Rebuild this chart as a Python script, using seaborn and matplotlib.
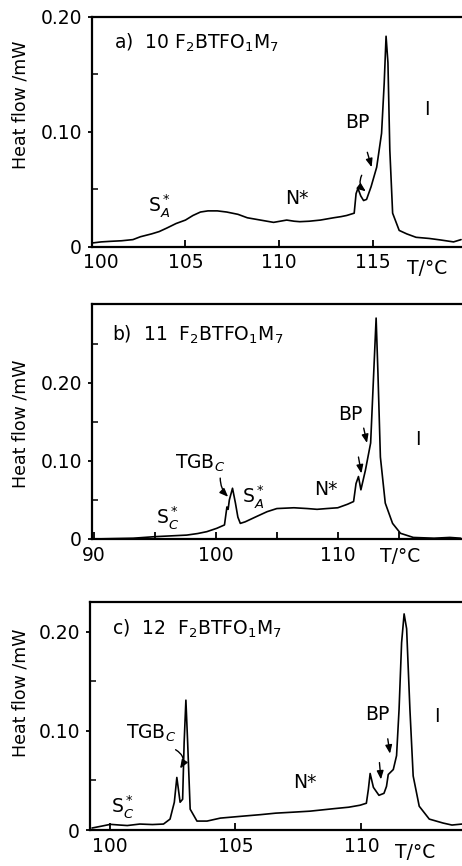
import numpy as np
import pandas as pd
import matplotlib
matplotlib.use("Agg")
import matplotlib.pyplot as plt
import matplotlib.transforms as mtransforms
import seaborn as sns

# ---------------- data ----------------
# panel a) 10 F2BTFO1M7
Ta = [100.0, 100.5, 101.0, 101.6, 102.2, 102.6, 103.2, 103.6, 104.0, 104.5, 105.0, 105.4,
      105.8, 106.2, 106.7, 107.2, 107.8, 108.3, 109.0, 109.7, 110.4, 110.8, 111.1, 111.6,
      112.2, 112.9, 113.3, 113.6, 114.0, 114.1, 114.2, 114.35, 114.5, 114.66, 114.9, 115.2,
      115.46, 115.6, 115.7, 115.8, 115.9, 116.05, 116.4, 116.8, 117.3, 118.0, 118.6, 119.3, 119.7]
Ha = [0.003, 0.004, 0.0045, 0.005, 0.006, 0.0085, 0.011, 0.013, 0.016, 0.020, 0.023, 0.027,
      0.030, 0.031, 0.031, 0.030, 0.028, 0.025, 0.023, 0.021, 0.023, 0.022, 0.0216, 0.022,
      0.023, 0.025, 0.026, 0.027, 0.029, 0.046, 0.0506, 0.044, 0.040, 0.041, 0.052, 0.069,
      0.0985, 0.142, 0.183, 0.16, 0.084, 0.029, 0.014, 0.011, 0.008, 0.007, 0.0057, 0.004, 0.006]

# panel b) 11 F2BTFO1M7
Tb = [89.9, 91.5, 93.2, 95.0, 96.3, 97.6, 98.5, 99.25, 100.07, 100.7, 100.9, 101.0, 101.1,
      101.36, 101.6, 101.8, 102.0, 102.4, 103.36, 104.2, 105.0, 106.4, 107.5, 108.3, 109.1,
      110.0, 110.8, 111.3, 111.5, 111.7, 111.9, 112.27, 112.54, 112.7, 112.95, 113.15, 113.3,
      113.5, 113.9, 114.5, 115.15, 116.2, 117.9, 119.2, 120.1]
Hb = [0.0, 0.0005, 0.001, 0.003, 0.004, 0.005, 0.007, 0.0094, 0.0137, 0.018, 0.041, 0.038, 0.050,
      0.065, 0.046, 0.028, 0.020, 0.022, 0.029, 0.035, 0.039, 0.040, 0.039, 0.038, 0.039,
      0.040, 0.0445, 0.048, 0.071, 0.080, 0.063, 0.088, 0.11, 0.123, 0.212, 0.283, 0.212,
      0.105, 0.046, 0.020, 0.0073, 0.002, 0.001, 0.002, 0.001]

# panel c) 12 F2BTFO1M7
Tc = [99.3, 99.7, 100.03, 100.4, 100.7, 101.2, 101.7, 102.14, 102.4, 102.57, 102.67, 102.8,
      102.9, 102.96, 103.03, 103.1, 103.2, 103.47, 103.87, 104.4, 105.3, 106.0, 106.6, 107.3,
      107.96, 108.9, 109.5, 109.95, 110.2, 110.28, 110.35, 110.48, 110.7, 110.9, 111.0, 111.07,
      111.27, 111.4, 111.5, 111.6, 111.7, 111.8, 111.93, 112.06, 112.3, 112.7, 113.25, 113.6, 114.0]
Hc = [0.002, 0.004, 0.0057, 0.005, 0.0045, 0.006, 0.0055, 0.006, 0.011, 0.028, 0.053, 0.028,
      0.031, 0.088, 0.131, 0.088, 0.021, 0.009, 0.009, 0.012, 0.014, 0.0155, 0.017, 0.018,
      0.019, 0.0215, 0.023, 0.025, 0.027, 0.041, 0.057, 0.043, 0.035, 0.037, 0.044, 0.056,
      0.061, 0.075, 0.122, 0.189, 0.218, 0.203, 0.122, 0.0545, 0.024, 0.011, 0.007, 0.005, 0.006]

titles = [r"a)  10 F$_2$BTFO$_1$M$_7$",
          r"b)  11  F$_2$BTFO$_1$M$_7$",
          r"c)  12  F$_2$BTFO$_1$M$_7$"]
xticks_a = [100, 105, 110, 115]
xticks_b = [90, 100, 110]
xminor_b = [95, 105, 115]
xticks_c = [100, 105, 110]
yticks = [0, 0.10, 0.20]
ytick_labels = ["0", "0.10", "0.20"]
yminor_a = [0.05, 0.15]
yminor_b = [0.05, 0.15, 0.25]
yminor_c = [0.05, 0.15]
ylabel = "Heat flow /mW"
xlabel = "T/°C"

# ---------------- style ----------------
sns.set_style("ticks")
plt.rcParams["font.family"] = ["DejaVu Sans"]
plt.rcParams["mathtext.fontset"] = "dejavusans"
plt.rcParams["axes.linewidth"] = 1.6

W, H = 462, 866
fig = plt.figure(figsize=(W / 100, H / 100), dpi=100)


def add_axes(left, top, bottom):
    return fig.add_axes([left / W, 1 - bottom / H, (W - left) / W, (bottom - top) / H])


ax_a = add_axes(91.7, 16.7, 246.5)
ax_b = add_axes(91.7, 304, 539)
ax_c = add_axes(89.5, 602, 830)

panels = [
    (ax_a, Ta, Ha, (100.0, 119.75), (0, 0.20), xticks_a, [], yminor_a),
    (ax_b, Tb, Hb, (89.8, 120.2), (0, 0.301), xticks_b, xminor_b, yminor_b),
    (ax_c, Tc, Hc, (99.2, 114.0), (0, 0.23), xticks_c, [], yminor_c),
]

for ax, T, Hf, xl, yl, xt, xm, ym in panels:
    df = pd.DataFrame({"T": T, "H": Hf})
    sns.lineplot(data=df, x="T", y="H", ax=ax, color="black", linewidth=1.2,
                 estimator=None, sort=True)
    ax.set_xlim(*xl)
    ax.set_ylim(*yl)
    ax.set_xticks(xt)
    ax.set_xticklabels([str(v) for v in xt])
    ax.set_xticks(xm, minor=True)
    ax.set_yticks(yticks)
    ax.set_yticklabels(ytick_labels)
    ax.set_yticks(ym, minor=True)
    ax.set_xlabel("")
    ax.set_ylabel("")
    ax.spines["right"].set_visible(False)
    for s in ["left", "bottom", "top"]:
        ax.spines[s].set_color("black")
    ax.tick_params(axis="x", which="both", direction="in", length=5, width=1.3,
                   labelsize=13.5, pad=5, colors="black")
    ax.tick_params(axis="y", which="major", direction="out", length=3, width=1.3,
                   labelsize=13.5, pad=4, colors="black")
    ax.tick_params(axis="y", which="minor", direction="in", length=4, width=1.3)
    ax.set_facecolor("white")

# shift the first x tick label of panel a a little to the right (as in the reference)
first = ax_a.get_xticklabels()[0]
first.set_transform(first.get_transform() +
                    mtransforms.ScaledTranslation(0.09, 0, fig.dpi_scale_trans))

FS = 13.5
kw = dict(color="black", fontsize=FS, ha="center", va="center")
arr = dict(arrowstyle="-|>,head_length=0.5,head_width=0.2", color="black", lw=1.0,
           shrinkA=0, shrinkB=0)

# panel a annotations
ax_a.text(101.2, 0.177, titles[0], color="black", fontsize=FS, ha="left", va="center")
ax_a.text(103.6, 0.036, r"S$_A^*$", **kw)
ax_a.text(110.95, 0.042, "N*", **kw)
ax_a.text(114.15, 0.108, "BP", **kw)
ax_a.text(117.9, 0.119, "I", **kw)
ax_a.annotate("", xy=(114.93, 0.069), xytext=(114.7, 0.082), arrowprops=arr)
ax_a.annotate("", xy=(114.62, 0.048), xytext=(114.4, 0.062),
              arrowprops=dict(arr, connectionstyle="arc3,rad=0.4"))

# panel b annotations
ax_b.text(91.5, 0.262, titles[1], color="black", fontsize=FS, ha="left", va="center")
ax_b.text(96.07, 0.028, r"S$_C^*$", **kw)
ax_b.text(98.7, 0.097, r"TGB$_C$", **kw)
ax_b.annotate("", xy=(101.0, 0.054), xytext=(100.35, 0.078),
              arrowprops=dict(arr, connectionstyle="arc3,rad=0.2"))
ax_b.text(103.1, 0.054, r"S$_A^*$", **kw)
ax_b.text(109.0, 0.063, "N*", **kw)
ax_b.text(111.0, 0.159, "BP", **kw)
ax_b.text(116.6, 0.127, "I", **kw)
ax_b.annotate("", xy=(112.4, 0.123), xytext=(112.13, 0.142), arrowprops=arr)
ax_b.annotate("", xy=(111.94, 0.084), xytext=(111.7, 0.105), arrowprops=arr)

# panel c annotations
ax_c.text(100.1, 0.203, titles[2], color="black", fontsize=FS, ha="left", va="center")
ax_c.text(100.5, 0.024, r"S$_C^*$", **kw)
ax_c.text(101.65, 0.097, r"TGB$_C$", **kw)
ax_c.annotate("", xy=(102.8, 0.062), xytext=(102.62, 0.081),
              arrowprops=dict(arr, connectionstyle="arc3,rad=-0.5"))
ax_c.text(107.77, 0.048, "N*", **kw)
ax_c.text(110.62, 0.117, "BP", **kw)
ax_c.text(113.0, 0.115, "I", **kw)
ax_c.annotate("", xy=(111.14, 0.077), xytext=(111.05, 0.092), arrowprops=arr)
ax_c.annotate("", xy=(110.78, 0.051), xytext=(110.72, 0.068), arrowprops=arr)

# axis labels as figure text
for yc in (105, 424, 693):
    fig.text(21 / W, 1 - yc / H, ylabel, rotation=90, fontsize=12.5, color="black",
             ha="center", va="center")
for (xc, yc) in ((427, 268), (400, 557), (415, 853)):
    fig.text(xc / W, 1 - yc / H, xlabel, fontsize=FS, color="black", ha="center", va="center")

fig.savefig("out.png", dpi=100, facecolor="white")
